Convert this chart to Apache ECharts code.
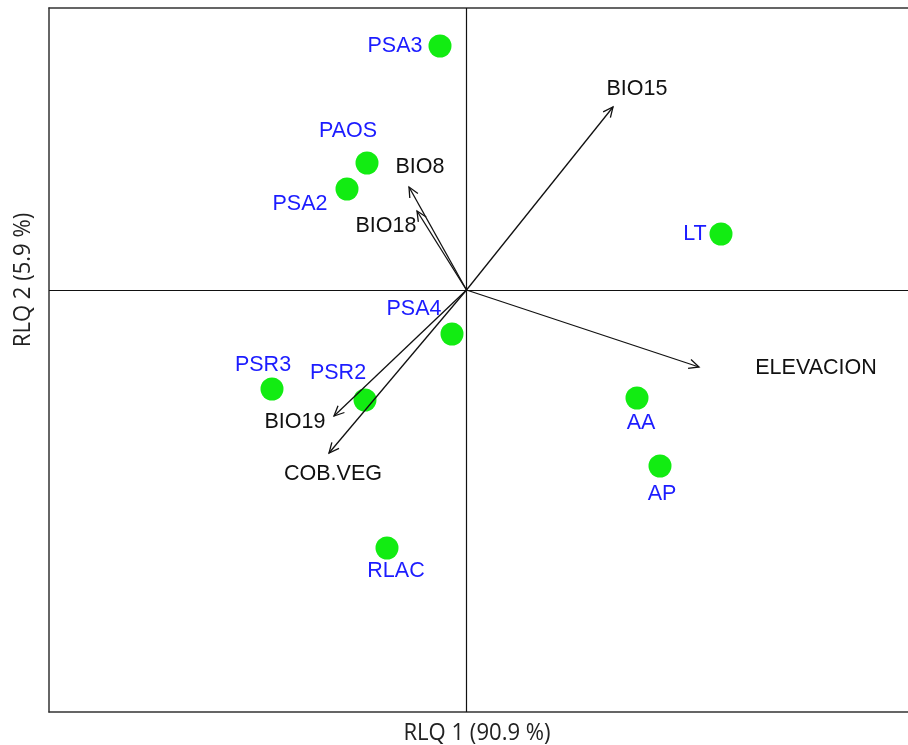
<!DOCTYPE html>
<html>
<head>
<meta charset="utf-8">
<script src="https://cdn.jsdelivr.net/npm/echarts@6/dist/echarts.min.js"></script>
<style>html,body{margin:0;padding:0;background:#fff;}#chart{width:908px;height:745px;}</style>
</head>
<body>
<div id="chart"></div>
<script>
// Sites (row scores)
var siteNames = ['PSA3','PAOS','PSA2','LT','PSA4','PSR3','PSR2','AA','AP','RLAC'];
var siteX = [-0.265, -0.995, -1.195, 2.545, -0.145, -1.945, -1.015, 1.705, 1.935, -0.795];
var siteY = [2.44, 1.27, 1.01, 0.56, -0.44, -0.99, -1.10, -1.08, -1.76, -2.58];

// Environmental variables (arrows)
var varNames = ['BIO15','BIO8','BIO18','ELEVACION','BIO19','COB.VEG'];
var varX = [1.465, -0.575, -0.495, 2.325, -1.325, -1.375];
var varY = [1.83, 1.03, 0.79, -0.77, -1.26, -1.63];

// Axis titles
var xTitle = 'RLQ 1 (90.9 %)';
var yTitle = 'RLQ 2 (5.9 %)';

// label placement (style, pixels)
var siteLabelOffset = {
  'PSA3':[-45,0],'PAOS':[-19,-32],'PSA2':[-47,15],'LT':[-26,0],'PSA4':[-38,-25],
  'PSR3':[-9,-24],'PSR2':[-27,-27],'AA':[4,25],'AP':[2,28],'RLAC':[9,23]
};
var varLabelOffset = {
  'BIO15':[24,-18],'BIO8':[11,-20],'BIO18':[-31,15],'ELEVACION':[117,1],'BIO19':[-39,6],'COB.VEG':[4,21]
};

var labelFont = '"Liberation Sans", Arimo, Arial, sans-serif';

var siteData = siteNames.map(function(n,i){
  return {name:n, value:[siteX[i], siteY[i]], label:{offset: siteLabelOffset[n]}};
});
var varData = varNames.map(function(n,i){ return [varX[i], varY[i], i]; });

var chart = echarts.init(document.getElementById('chart'), null, {renderer:'canvas'});
var frameLine = {show:true, onZero:false, lineStyle:{color:'#333', width:1.5}};
var noMarks = {axisTick:{show:false},axisLabel:{show:false},splitLine:{show:false}};
chart.setOption({
  animation:false,
  backgroundColor:'#fff',
  grid:{left:49, right:0, top:8, bottom:33, show:false},
  xAxis:[
    Object.assign({type:'value', min:-4.175, max:4.415, position:'bottom', axisLine:frameLine}, noMarks),
    Object.assign({type:'value', min:-4.175, max:4.415, position:'top', axisLine:frameLine}, noMarks)
  ],
  yAxis:Object.assign({type:'value', min:-4.22, max:2.82, position:'left', axisLine:frameLine}, noMarks),
  graphic:[
    {type:'text', id:'xt', x:477, y:733, style:{text:xTitle, align:'center', verticalAlign:'middle', font:'23px "Open Sans"', fill:'#222'}, scaleX:0.96, silent:true},
    {type:'text', id:'yt', x:23, y:280, rotation:Math.PI/2, style:{text:yTitle, align:'center', verticalAlign:'middle', font:'23px "Open Sans"', fill:'#222'}, scaleX:0.96, silent:true}
  ],
  series:[
    {
      type:'scatter',
      data:siteData,
      symbol:'circle',
      symbolSize:23,
      itemStyle:{color:'#12ec12', opacity:1},
      label:{show:true, formatter:'{b}', position:'inside', align:'center', verticalAlign:'middle',
             color:'#1c1cff', fontSize:21.5, fontFamily:labelFont},
      markLine:{
        silent:true, symbol:['none','none'], label:{show:false},
        lineStyle:{color:'#111', type:'solid', width:1.2},
        data:[{xAxis:0},{yAxis:0}]
      },
      z:3
    },
    {
      type:'custom',
      data:varData,
      z:4,
      renderItem:function(params, api){
        var o = api.coord([0,0]);
        var t = api.coord([api.value(0), api.value(1)]);
        var name = varNames[api.value(2)];
        var ang = Math.atan2(t[1]-o[1], t[0]-o[0]);
        var L = 11, a = 25*Math.PI/180;
        var h1 = [t[0]-L*Math.cos(ang-a), t[1]-L*Math.sin(ang-a)];
        var h2 = [t[0]-L*Math.cos(ang+a), t[1]-L*Math.sin(ang+a)];
        var off = varLabelOffset[name];
        var ls = {stroke:'#111', lineWidth:1.3};
        return {type:'group', children:[
          {type:'line', shape:{x1:o[0],y1:o[1],x2:t[0],y2:t[1]}, style:ls},
          {type:'polyline', shape:{points:[h1,t,h2]}, style:Object.assign({fill:null}, ls)},
          {type:'text', x:t[0]+off[0], y:t[1]+off[1], style:{text:name, align:'center', verticalAlign:'middle',
            font:'21.5px ' + labelFont, fill:'#111'}}
        ]};
      }
    }
  ]
});
</script>
</body>
</html>
